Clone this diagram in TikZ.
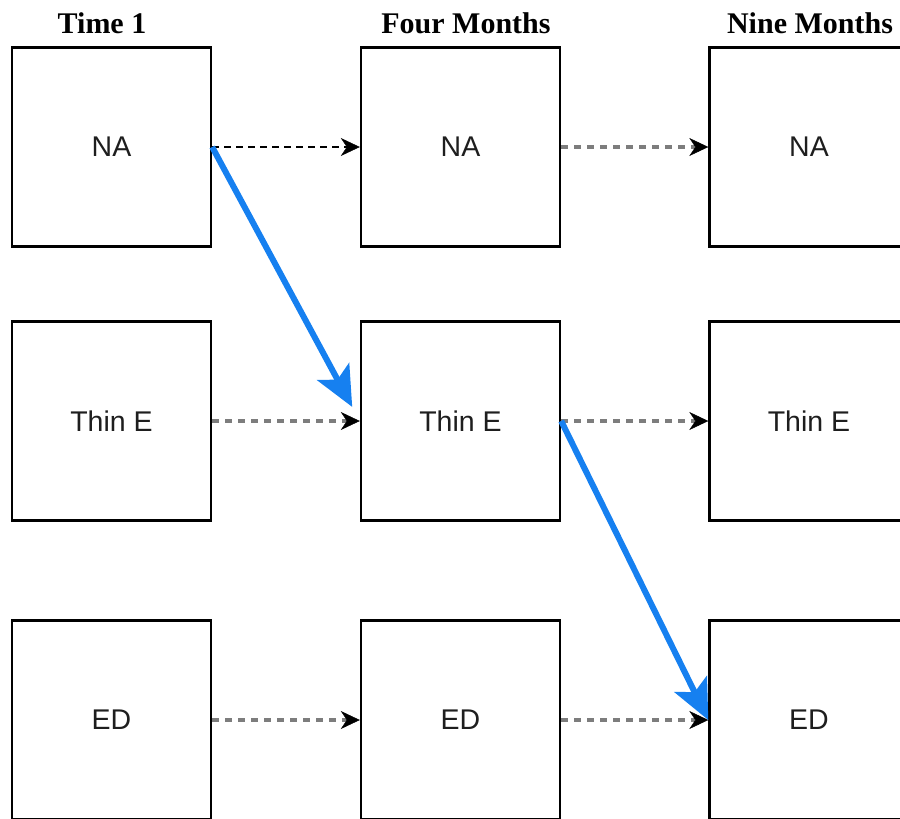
\documentclass[tikz,border=0pt]{standalone}
\usepackage{fontspec}
\setmainfont{Liberation Serif}
\newfontfamily\boxfont{Liberation Sans}
\usetikzlibrary{arrows.meta}

\definecolor{flowblue}{RGB}{22,128,240}
\definecolor{boxtext}{RGB}{30,30,30}
\definecolor{dashgray}{RGB}{125,125,125}

\tikzset{
  statebox/.style={draw=black, line width=2.4pt, minimum width=199pt, minimum height=199pt,
    inner sep=0pt, fill=white, text=boxtext, font=\boxfont\fontsize{28.5}{32}\selectfont},
  header/.style={anchor=base, font=\bfseries\fontsize{30}{34}\selectfont},
  carry/.style={draw=dashgray, line width=3.4pt, dash pattern=on 7pt off 6pt,
    -{Stealth[length=19pt, width=18pt, inset=6pt, color=black, line width=0.5pt]}},
  carrydark/.style={draw=black, line width=2pt, dash pattern=on 7pt off 5pt,
    -{Stealth[length=19pt, width=18pt, inset=6pt, line width=0.5pt]}},
  jumpline/.style={draw=flowblue, line width=6pt,
    -{Stealth[length=40pt, width=36pt, inset=9pt]}}
}

\begin{document}
\begin{tikzpicture}[x=1pt, y=-1pt]
  \useasboundingbox (0,0) rectangle (900,819);
  \clip (0,0) rectangle (900,819);

  % column headings
  \node[header] (h1) at (102,33) {Time 1};
  \node[header] (h2) at (466,33) {Four Months};
  \node[header] (h3) at (810,33) {Nine Months};

  % states at each wave
  \node[statebox] (na1) at (111.5,147) {NA};
  \node[statebox] (na2) at (460.5,147) {NA};
  \node[statebox] (na3) at (809,147) {NA};

  \node[statebox] (th1) at (111.5,421) {Thin E};
  \node[statebox] (th2) at (460.5,421) {Thin E};
  \node[statebox] (th3) at (809,421) {Thin E};

  \node[statebox] (ed1) at (111.5,720) {ED};
  \node[statebox] (ed2) at (460.5,720) {ED};
  \node[statebox] (ed3) at (809,720) {ED};

  % stable paths
  \draw[carrydark] (na1.east) -- (na2.west);
  \draw[carry] (na2.east) -- (na3.west);
  \draw[carry] (th1.east) -- (th2.west);
  \draw[carry] (th2.east) -- (th3.west);
  \draw[carry] (ed1.east) -- (ed2.west);
  \draw[carry] (ed2.east) -- (ed3.west);

  % transitions
  \draw[jumpline, shorten >=16pt] (na1.east) -- (th2.west);
  \draw[jumpline] (th2.east) -- (ed3.west);
\end{tikzpicture}
\end{document}
